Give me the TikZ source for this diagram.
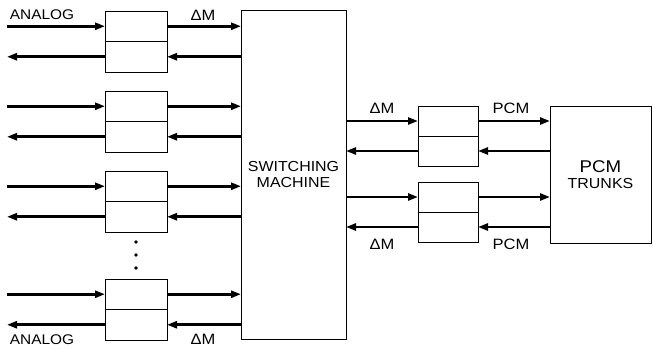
\documentclass[tikz,border=0pt]{standalone}
\usepackage{fontspec}
\setmainfont{Liberation Sans}[FakeStretch=1.1]
\usetikzlibrary{arrows.meta}
\begin{document}
\begin{tikzpicture}[x=1pt,y=-1pt,
  half/.style={draw, line width=0.9pt, minimum width=62pt, minimum height=30.5pt, inner sep=0pt, outer sep=0pt},
  rhalf/.style={half, minimum width=60pt, minimum height=30pt},
  bigbox/.style={draw, line width=0.9pt, inner sep=0pt, outer sep=0pt, align=center, font=\fontsize{14.5}{16}\selectfont},
  sig/.style={line width=2.6pt, -{Triangle[length=10pt,width=7pt]}},
  lbl/.style={font=\fontsize{15}{16}\selectfont, inner sep=0pt},
  alb/.style={font=\fontsize{14}{16}\selectfont, inner sep=0pt},
  dot/.style={circle, fill, inner sep=0pt, minimum size=3.8pt}
]
\useasboundingbox (0,0) rectangle (653,348);

% switching machine and PCM trunks
\node[bigbox, minimum width=105pt, minimum height=329pt] (sm) at (293.5,174.5) {SWITCHING\\MACHINE};
\node[bigbox, minimum width=101pt, minimum height=137pt] (pt) at (600.5,174.5)
  {{\fontsize{17}{17}\selectfont PCM}\\TRUNKS};

% left converter boxes
\foreach \i/\t in {1/11,2/91,3/171,4/279}{
  \node[half] (lb\i u) at (136,\t+15.25) {};
  \node[half] (lb\i l) at (136,\t+45.75) {};
  \coordinate (in\i) at (7,\t+15.25);
  \coordinate (out\i) at (7,\t+45.75);
  \draw[sig] (in\i) -- (lb\i u.west);
  \draw[sig] (lb\i u.east) -- (lb\i u.east -| sm.west);
  \draw[sig] (lb\i l.east -| sm.west) -- (lb\i l.east);
  \draw[sig] (lb\i l.west) -- (out\i);
}

% right converter boxes
\foreach \j/\t in {a/106,b/182}{
  \node[rhalf] (rb\j u) at (448,\t+15) {};
  \node[rhalf] (rb\j l) at (448,\t+45) {};
  \draw[sig] (rb\j u.west -| sm.east) -- (rb\j u.west);
  \draw[sig] (rb\j u.east) -- (rb\j u.east -| pt.west);
  \draw[sig] (rb\j l.east -| pt.west) -- (rb\j l.east);
  \draw[sig] (rb\j l.west) -- (rb\j l.west -| sm.east);
}

% dots
\node[dot] (d1) at (136,242) {};
\node[dot] (d2) at (136,255) {};
\node[dot] (d3) at (136,268) {};

% labels
\node[alb] (an1) at (42,15) {ANALOG};
\node[alb] (an2) at (42,340) {ANALOG};
\node[lbl] (dm1) at (203,15) {ΔM};
\node[lbl] (dm2) at (203,339) {ΔM};
\node[lbl] (dm3) at (382,108) {ΔM};
\node[lbl] (dm4) at (382,244) {ΔM};
\node[lbl] (pc1) at (511,108) {PCM};
\node[lbl] (pc2) at (511,244) {PCM};
\end{tikzpicture}
\end{document}
